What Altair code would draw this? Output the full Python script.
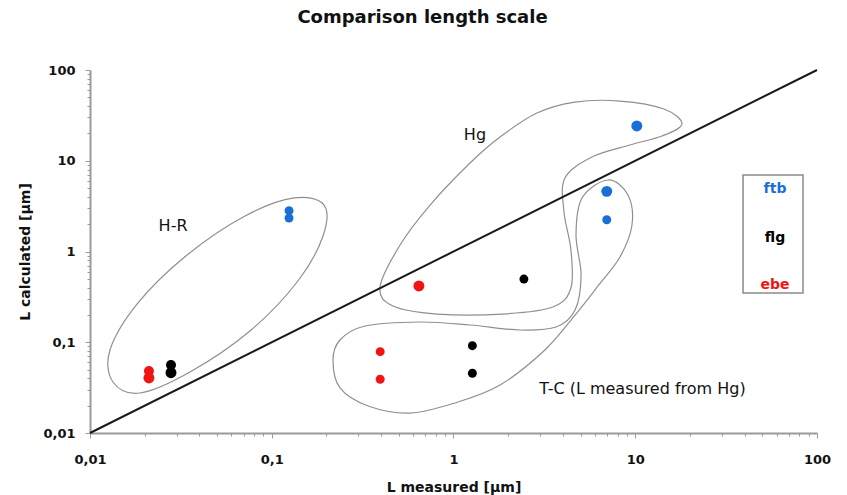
import altair as alt
import pandas as pd

# ---- measured vs calculated length scale (µm) ----
series = ["ebe", "ebe", "flg", "flg", "ftb", "ftb",
          "ebe", "flg", "ftb",
          "ftb", "ftb", "ebe", "ebe", "flg", "flg"]
l_measured = [0.0211, 0.0211, 0.0279, 0.0279, 0.1245, 0.1245,
              0.645, 2.44, 10.2,
              6.97, 6.97, 0.395, 0.395, 1.27, 1.27]
l_calculated = [0.0404, 0.0482, 0.0462, 0.0562, 2.82, 2.34,
                0.417, 0.497, 24.2,
                4.6, 2.24, 0.0787, 0.0391, 0.0916, 0.0455]
marker = ["big", "mid", "big", "mid", "small", "small",
          "big", "small", "big",
          "big", "small", "small", "small", "small", "small"]

series_names = ["ftb", "flg", "ebe"]
series_colors = ["#1a6fd6", "#000000", "#f01414"]

# group outlines, as (log10 L measured, log10 L calculated) control points
outline_hr = [(-0.7125, 0.512), (-0.718, 0.171), (-0.856, -0.325), (-1.120, -0.876),
              (-1.450, -1.328), (-1.725, -1.559), (-1.8735, -1.438), (-1.890, -1.085),
              (-1.736, -0.567), (-1.466, -0.039), (-1.147, 0.391), (-0.878, 0.590)]
outline_hg = [(-0.404, -0.391), (-0.333, -0.601), (-0.091, -0.689), (0.272, -0.689),
              (0.547, -0.612), (0.646, -0.402), (0.646, 0.017), (0.608, 0.435),
              (0.613, 0.810), (0.762, 1.041), (0.971, 1.174), (1.147, 1.273),
              (1.257, 1.405), (1.158, 1.570), (0.916, 1.658), (0.6685, 1.647),
              (0.459, 1.526), (0.256, 1.262), (0.091, 0.975), (-0.129, 0.512),
              (-0.294, 0.072)]
outline_tc = [(-0.663, -1.196), (-0.6245, -0.975), (-0.487, -0.821), (-0.184, -0.777),
              (0.091, -0.810), (0.366, -0.865), (0.564, -0.832), (0.669, -0.645),
              (0.702, -0.259), (0.674, 0.182), (0.707, 0.590), (0.850, 0.788),
              (0.960, 0.623), (0.982, 0.292), (0.916, -0.061), (0.795, -0.380),
              (0.669, -0.700), (0.503, -1.085), (0.256, -1.471), (0.008, -1.669),
              (-0.239, -1.780), (-0.470, -1.702), (-0.6245, -1.504)]

group_labels = ["H-R", "Hg", "T-C (L measured from Hg)"]
group_label_pos = [(-1.543, 0.281), (0.118, 1.284), (1.040, -1.515)]

# key box (log10 coordinates) and its entries
key_box = (1.593, 1.923, 0.843, -0.457)
key_label_pos = [(1.769, 0.689), (1.769, 0.149), (1.769, -0.369)]

major_ticks = [0.01, 0.1, 1, 10, 100]
tick_values = sorted({round(m * 10 ** e, 6) for e in range(-2, 2) for m in range(1, 10)} | {100})

# ---- tables ----
points = pd.DataFrame({"series": series, "x": l_measured, "y": l_calculated, "marker": marker})

rows = []
for name, pts in (("hr", outline_hr), ("hg", outline_hg), ("tc", outline_tc)):
    for i, (lx, ly) in enumerate(pts):
        rows.append({"group": name, "idx": i, "x": 10 ** lx, "y": 10 ** ly})
outlines = pd.DataFrame(rows)

labels = pd.DataFrame({"text": group_labels,
                       "x": [10 ** p[0] for p in group_label_pos],
                       "y": [10 ** p[1] for p in group_label_pos]})
key_text = pd.DataFrame({"series": series_names,
                         "x": [10 ** p[0] for p in key_label_pos],
                         "y": [10 ** p[1] for p in key_label_pos]})
key_rect = pd.DataFrame({"x": [10 ** key_box[0]], "x2": [10 ** key_box[1]],
                         "y": [10 ** key_box[2]], "y2": [10 ** key_box[3]]})
diag = pd.DataFrame({"x": [0.01, 100], "y": [0.01, 100]})

# ---- shared scales and axes ----
FONT = "DejaVu Sans"
label_expr = ("datum.value == 0.01 ? '0,01' : datum.value == 0.1 ? '0,1' : "
              "datum.value == 1 ? '1' : datum.value == 10 ? '10' : "
              "datum.value == 100 ? '100' : ''")
is_major = "indexof([0.01, 0.1, 1, 10, 100], datum.value) >= 0"


def make_axis(title, title_pad, label_pad):
    return alt.Axis(
        title=title, values=tick_values, labelExpr=label_expr, grid=False,
        labelOverlap=False, labelFlush=False,
        domainColor="#9a9a9a", domainWidth=2, tickColor="#9a9a9a", tickWidth=1,
        tickSize={"condition": {"test": is_major, "value": 5}, "value": 3},
        labelFont=FONT, labelFontSize=13, labelFontWeight="bold", labelColor="#111111",
        labelPadding=label_pad,
        titleFont=FONT, titleFontSize=14, titleFontWeight="bold", titleColor="#111111",
        titlePadding=title_pad,
    )


x_scale = alt.Scale(type="log", domain=[0.01, 100], nice=False)
y_scale = alt.Scale(type="log", domain=[0.01, 100], nice=False)
x_axis = make_axis("L measured [µm]", 14, 15)
y_axis = make_axis("L calculated [µm]", 10, 10)


def X(field="x"):
    return alt.X(f"{field}:Q", scale=x_scale, axis=x_axis)


def Y(field="y"):
    return alt.Y(f"{field}:Q", scale=y_scale, axis=y_axis)


color = alt.Color("series:N", scale=alt.Scale(domain=series_names, range=series_colors), legend=None)

diag_line = alt.Chart(diag).mark_line(color="#1a1a1a", strokeWidth=2).encode(x=X(), y=Y())

outline_layer = alt.Chart(outlines).mark_line(
    interpolate="cardinal-closed", color="#8f8f8f", strokeWidth=1.2
).encode(x=X(), y=Y(), detail="group:N", order="idx:Q")

dots = alt.Chart(points).mark_circle(opacity=1).encode(
    x=X(), y=Y(), color=color,
    size=alt.Size("marker:N", scale=alt.Scale(domain=["big", "mid", "small"], range=[120, 80, 45]),
                  legend=None),
)

group_text = alt.Chart(labels).mark_text(
    font=FONT, fontSize=16, color="#111111", align="center", baseline="middle"
).encode(x=X(), y=Y(), text="text:N")

key_frame = alt.Chart(key_rect).mark_rect(
    fillOpacity=0, stroke="#8a8a8a", strokeWidth=1.5
).encode(x=X(), x2="x2:Q", y=Y(), y2="y2:Q")

key_labels = alt.Chart(key_text).mark_text(
    font=FONT, fontSize=14, fontWeight="bold", align="center", baseline="middle"
).encode(x=X(), y=Y(), text="series:N", color=color)

chart = alt.layer(
    outline_layer, diag_line, dots, group_text, key_frame, key_labels
).properties(
    width=727, height=363,
    title=alt.Title("Comparison length scale", font=FONT, fontSize=18, fontWeight="bold",
                    color="#111111", anchor="middle", dx=-31, offset=37),
    autosize=alt.AutoSizeParams(type="none"),
    padding={"left": 90, "top": 70, "right": 30, "bottom": 62},
).configure_view(stroke="transparent")

chart.save("out.html", embed_options={"renderer": "svg", "actions": False})
